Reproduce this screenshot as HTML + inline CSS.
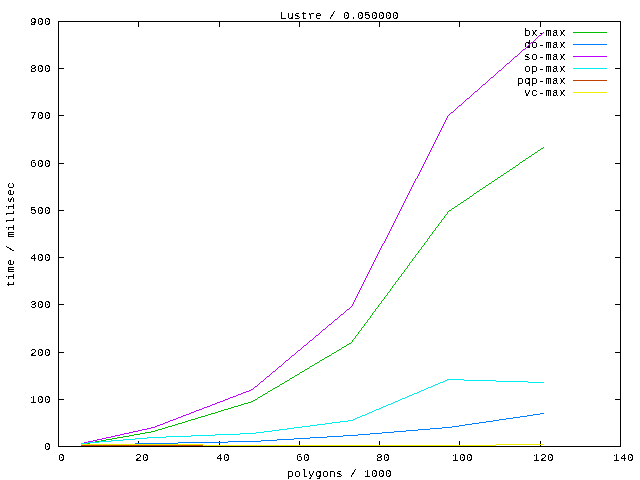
<!DOCTYPE html>
<html lang="en"><head><meta charset="utf-8"><title>Lustre / 0.050000</title>
<style>
html,body{margin:0;padding:0;background:#fff;}
body{width:640px;height:480px;overflow:hidden;}
svg{display:block;}
text{font-family:"Liberation Mono", "DejaVu Sans Mono", monospace;font-size:11.00px;letter-spacing:0.3989px;fill:#000;filter:url(#crisp);}
path,rect{shape-rendering:crispEdges;}
</style></head><body>
<svg width="640" height="480" viewBox="0 0 640 480">
<defs><filter id="crisp" x="-10%" y="-50%" width="120%" height="200%" color-interpolation-filters="sRGB"><feComponentTransfer><feFuncA type="discrete" tableValues="0 0 0 0 0 0 0 0 0 1 1 1 1 1 1 1 1 1 1 1"/></feComponentTransfer></filter></defs>
<rect x="0" y="0" width="640" height="480" fill="#ffffff"/>
<path fill="#000" d="M138 441h1v5h-1zM138 22h1v5h-1zM219 441h1v5h-1zM219 22h1v5h-1zM299 441h1v5h-1zM299 22h1v5h-1zM379 441h1v5h-1zM379 22h1v5h-1zM459 441h1v5h-1zM459 22h1v5h-1zM540 441h1v5h-1zM540 22h1v5h-1zM59 399h5v1h-5zM615 399h5v1h-5zM59 352h5v1h-5zM615 352h5v1h-5zM59 304h5v1h-5zM615 304h5v1h-5zM59 257h5v1h-5zM615 257h5v1h-5zM59 210h5v1h-5zM615 210h5v1h-5zM59 163h5v1h-5zM615 163h5v1h-5zM59 115h5v1h-5zM615 115h5v1h-5zM59 68h5v1h-5zM615 68h5v1h-5z"/>
<text x="44" y="450">0</text>
<text x="30" y="403">100</text>
<text x="30" y="356">200</text>
<text x="30" y="308">300</text>
<text x="30" y="261">400</text>
<text x="30" y="214">500</text>
<text x="30" y="167">600</text>
<text x="30" y="119">700</text>
<text x="30" y="72">800</text>
<text x="30" y="25">900</text>
<text x="58" y="461">0</text>
<text x="135" y="461">20</text>
<text x="216" y="461">40</text>
<text x="296" y="461">60</text>
<text x="376" y="461">80</text>
<text x="452" y="461">100</text>
<text x="533" y="461">120</text>
<text x="613" y="461">140</text>
<text x="280" y="19">Lustre / 0.050000</text>
<text x="287" y="477">polygons / 1000</text>
<text transform="translate(14 287) rotate(-90)" x="0" y="0">time / millisec</text>
<text x="524" y="36">bx-max</text>
<path fill="#00c000" d="M573 32h34v1h-34zM543 147h1v1h-1zM541 148h2v1h-2zM540 149h1v1h-1zM538 150h2v1h-2zM537 151h1v1h-1zM535 152h2v1h-2zM534 153h1v1h-1zM532 154h2v1h-2zM531 155h1v1h-1zM529 156h2v1h-2zM528 157h1v1h-1zM526 158h2v1h-2zM525 159h1v1h-1zM523 160h2v1h-2zM522 161h1v1h-1zM520 162h2v1h-2zM519 163h1v1h-1zM518 164h1v1h-1zM516 165h2v1h-2zM515 166h1v1h-1zM513 167h2v1h-2zM512 168h1v1h-1zM510 169h2v1h-2zM509 170h1v1h-1zM507 171h2v1h-2zM506 172h1v1h-1zM504 173h2v1h-2zM503 174h1v1h-1zM501 175h2v1h-2zM500 176h1v1h-1zM498 177h2v1h-2zM497 178h1v1h-1zM495 179h2v1h-2zM494 180h1v1h-1zM492 181h2v1h-2zM491 182h1v1h-1zM489 183h2v1h-2zM488 184h1v1h-1zM486 185h2v1h-2zM485 186h1v1h-1zM483 187h2v1h-2zM482 188h1v1h-1zM480 189h2v1h-2zM479 190h1v1h-1zM477 191h2v1h-2zM476 192h1v1h-1zM474 193h2v1h-2zM473 194h1v1h-1zM472 195h1v1h-1zM470 196h2v1h-2zM469 197h1v1h-1zM467 198h2v1h-2zM466 199h1v1h-1zM464 200h2v1h-2zM463 201h1v1h-1zM461 202h2v1h-2zM460 203h1v1h-1zM458 204h2v1h-2zM457 205h1v1h-1zM455 206h2v1h-2zM454 207h1v1h-1zM452 208h2v1h-2zM451 209h1v1h-1zM449 210h2v1h-2zM448 211h1v1h-1zM447 212h1v1h-1zM447 213h1v1h-1zM446 214h1v1h-1zM445 215h1v1h-1zM444 216h1v1h-1zM444 217h1v1h-1zM443 218h1v1h-1zM442 219h1v1h-1zM441 220h1v1h-1zM441 221h1v1h-1zM440 222h1v1h-1zM439 223h1v1h-1zM438 224h1v1h-1zM438 225h1v1h-1zM437 226h1v1h-1zM436 227h1v1h-1zM435 228h1v1h-1zM435 229h1v1h-1zM434 230h1v1h-1zM433 231h1v1h-1zM432 232h1v1h-1zM432 233h1v1h-1zM431 234h1v1h-1zM430 235h1v1h-1zM429 236h1v1h-1zM429 237h1v1h-1zM428 238h1v1h-1zM427 239h1v1h-1zM427 240h1v1h-1zM426 241h1v1h-1zM425 242h1v1h-1zM424 243h1v1h-1zM424 244h1v1h-1zM423 245h1v1h-1zM422 246h1v1h-1zM421 247h1v1h-1zM421 248h1v1h-1zM420 249h1v1h-1zM419 250h1v1h-1zM418 251h1v1h-1zM418 252h1v1h-1zM417 253h1v1h-1zM416 254h1v1h-1zM415 255h1v1h-1zM415 256h1v1h-1zM414 257h1v1h-1zM413 258h1v1h-1zM412 259h1v1h-1zM412 260h1v1h-1zM411 261h1v1h-1zM410 262h1v1h-1zM409 263h1v1h-1zM409 264h1v1h-1zM408 265h1v1h-1zM407 266h1v1h-1zM407 267h1v1h-1zM406 268h1v1h-1zM405 269h1v1h-1zM404 270h1v1h-1zM404 271h1v1h-1zM403 272h1v1h-1zM402 273h1v1h-1zM401 274h1v1h-1zM401 275h1v1h-1zM400 276h1v1h-1zM399 277h1v1h-1zM398 278h1v1h-1zM398 279h1v1h-1zM397 280h1v1h-1zM396 281h1v1h-1zM395 282h1v1h-1zM395 283h1v1h-1zM394 284h1v1h-1zM393 285h1v1h-1zM392 286h1v1h-1zM392 287h1v1h-1zM391 288h1v1h-1zM390 289h1v1h-1zM390 290h1v1h-1zM389 291h1v1h-1zM388 292h1v1h-1zM387 293h1v1h-1zM387 294h1v1h-1zM386 295h1v1h-1zM385 296h1v1h-1zM384 297h1v1h-1zM384 298h1v1h-1zM383 299h1v1h-1zM382 300h1v1h-1zM381 301h1v1h-1zM381 302h1v1h-1zM380 303h1v1h-1zM379 304h1v1h-1zM378 305h1v1h-1zM378 306h1v1h-1zM377 307h1v1h-1zM376 308h1v1h-1zM375 309h1v1h-1zM375 310h1v1h-1zM374 311h1v1h-1zM373 312h1v1h-1zM372 313h1v1h-1zM372 314h1v1h-1zM371 315h1v1h-1zM370 316h1v1h-1zM370 317h1v1h-1zM369 318h1v1h-1zM368 319h1v1h-1zM367 320h1v1h-1zM367 321h1v1h-1zM366 322h1v1h-1zM365 323h1v1h-1zM364 324h1v1h-1zM364 325h1v1h-1zM363 326h1v1h-1zM362 327h1v1h-1zM361 328h1v1h-1zM361 329h1v1h-1zM360 330h1v1h-1zM359 331h1v1h-1zM358 332h1v1h-1zM358 333h1v1h-1zM357 334h1v1h-1zM356 335h1v1h-1zM355 336h1v1h-1zM355 337h1v1h-1zM354 338h1v1h-1zM353 339h1v1h-1zM352 340h1v1h-1zM352 341h1v1h-1zM351 342h1v1h-1zM349 343h2v1h-2zM347 344h2v1h-2zM346 345h1v1h-1zM344 346h2v1h-2zM342 347h2v1h-2zM341 348h1v1h-1zM339 349h2v1h-2zM337 350h2v1h-2zM336 351h1v1h-1zM334 352h2v1h-2zM332 353h2v1h-2zM331 354h1v1h-1zM329 355h2v1h-2zM327 356h2v1h-2zM325 357h2v1h-2zM324 358h1v1h-1zM322 359h2v1h-2zM320 360h2v1h-2zM319 361h1v1h-1zM317 362h2v1h-2zM315 363h2v1h-2zM314 364h1v1h-1zM312 365h2v1h-2zM310 366h2v1h-2zM309 367h1v1h-1zM307 368h2v1h-2zM305 369h2v1h-2zM304 370h1v1h-1zM302 371h2v1h-2zM300 372h2v1h-2zM299 373h1v1h-1zM297 374h2v1h-2zM295 375h2v1h-2zM294 376h1v1h-1zM292 377h2v1h-2zM290 378h2v1h-2zM289 379h1v1h-1zM287 380h2v1h-2zM285 381h2v1h-2zM284 382h1v1h-1zM282 383h2v1h-2zM280 384h2v1h-2zM279 385h1v1h-1zM277 386h2v1h-2zM275 387h2v1h-2zM273 388h2v1h-2zM272 389h1v1h-1zM270 390h2v1h-2zM268 391h2v1h-2zM267 392h1v1h-1zM265 393h2v1h-2zM263 394h2v1h-2zM262 395h1v1h-1zM260 396h2v1h-2zM258 397h2v1h-2zM257 398h1v1h-1zM255 399h2v1h-2zM253 400h2v1h-2zM251 401h2v1h-2zM248 402h3v1h-3zM244 403h4v1h-4zM241 404h3v1h-3zM238 405h3v1h-3zM234 406h4v1h-4zM231 407h3v1h-3zM228 408h3v1h-3zM224 409h4v1h-4zM221 410h3v1h-3zM218 411h3v1h-3zM215 412h3v1h-3zM211 413h4v1h-4zM208 414h3v1h-3zM205 415h3v1h-3zM201 416h4v1h-4zM198 417h3v1h-3zM195 418h3v1h-3zM191 419h4v1h-4zM188 420h3v1h-3zM185 421h3v1h-3zM182 422h3v1h-3zM178 423h4v1h-4zM175 424h3v1h-3zM172 425h3v1h-3zM168 426h4v1h-4zM165 427h3v1h-3zM162 428h3v1h-3zM158 429h4v1h-4zM155 430h3v1h-3zM151 431h4v1h-4zM145 432h6v1h-6zM140 433h5v1h-5zM134 434h6v1h-6zM129 435h5v1h-5zM123 436h6v1h-6zM117 437h6v1h-6zM112 438h5v1h-5zM106 439h6v1h-6zM101 440h5v1h-5zM95 441h6v1h-6zM90 442h5v1h-5zM84 443h6v1h-6zM81 444h3v1h-3z"/>
<text x="524" y="48">do-max</text>
<path fill="#0080ff" d="M573 44h34v1h-34zM540 413h4v1h-4zM533 414h7v1h-7zM527 415h6v1h-6zM520 416h7v1h-7zM513 417h7v1h-7zM506 418h7v1h-7zM499 419h7v1h-7zM493 420h6v1h-6zM486 421h7v1h-7zM479 422h7v1h-7zM472 423h7v1h-7zM465 424h7v1h-7zM459 425h6v1h-6zM452 426h7v1h-7zM442 427h10v1h-10zM430 428h12v1h-12zM418 429h12v1h-12zM406 430h12v1h-12zM394 431h12v1h-12zM382 432h12v1h-12zM370 433h12v1h-12zM358 434h12v1h-12zM343 435h15v1h-15zM327 436h16v1h-16zM310 437h17v1h-17zM294 438h16v1h-16zM277 439h17v1h-17zM261 440h16v1h-16zM228 441h33v1h-33zM178 442h50v1h-50zM135 443h43v1h-43zM99 444h36v1h-36zM81 445h18v1h-18z"/>
<text x="524" y="60">so-max</text>
<path fill="#c000ff" d="M573 56h34v1h-34zM543 32h1v1h-1zM542 33h1v1h-1zM541 34h1v1h-1zM539 35h2v1h-2zM538 36h1v1h-1zM537 37h1v1h-1zM536 38h1v1h-1zM535 39h1v1h-1zM534 40h1v1h-1zM533 41h1v1h-1zM531 42h2v1h-2zM530 43h1v1h-1zM529 44h1v1h-1zM528 45h1v1h-1zM527 46h1v1h-1zM526 47h1v1h-1zM525 48h1v1h-1zM523 49h2v1h-2zM522 50h1v1h-1zM521 51h1v1h-1zM520 52h1v1h-1zM519 53h1v1h-1zM518 54h1v1h-1zM517 55h1v1h-1zM515 56h2v1h-2zM514 57h1v1h-1zM513 58h1v1h-1zM512 59h1v1h-1zM511 60h1v1h-1zM510 61h1v1h-1zM509 62h1v1h-1zM507 63h2v1h-2zM506 64h1v1h-1zM505 65h1v1h-1zM504 66h1v1h-1zM503 67h1v1h-1zM502 68h1v1h-1zM501 69h1v1h-1zM499 70h2v1h-2zM498 71h1v1h-1zM497 72h1v1h-1zM496 73h1v1h-1zM495 74h1v1h-1zM494 75h1v1h-1zM493 76h1v1h-1zM491 77h2v1h-2zM490 78h1v1h-1zM489 79h1v1h-1zM488 80h1v1h-1zM487 81h1v1h-1zM486 82h1v1h-1zM485 83h1v1h-1zM483 84h2v1h-2zM482 85h1v1h-1zM481 86h1v1h-1zM480 87h1v1h-1zM479 88h1v1h-1zM478 89h1v1h-1zM477 90h1v1h-1zM475 91h2v1h-2zM474 92h1v1h-1zM473 93h1v1h-1zM472 94h1v1h-1zM471 95h1v1h-1zM470 96h1v1h-1zM469 97h1v1h-1zM467 98h2v1h-2zM466 99h1v1h-1zM465 100h1v1h-1zM464 101h1v1h-1zM463 102h1v1h-1zM462 103h1v1h-1zM461 104h1v1h-1zM459 105h2v1h-2zM458 106h1v1h-1zM457 107h1v1h-1zM456 108h1v1h-1zM455 109h1v1h-1zM454 110h1v1h-1zM453 111h1v1h-1zM451 112h2v1h-2zM450 113h1v1h-1zM449 114h1v1h-1zM448 115h1v1h-1zM447 116h1v1h-1zM447 117h1v1h-1zM446 118h1v1h-1zM446 119h1v1h-1zM445 120h1v1h-1zM445 121h1v1h-1zM444 122h1v1h-1zM444 123h1v1h-1zM443 124h1v1h-1zM443 125h1v1h-1zM442 126h1v1h-1zM442 127h1v1h-1zM441 128h1v1h-1zM441 129h1v1h-1zM440 130h1v1h-1zM440 131h1v1h-1zM439 132h1v1h-1zM439 133h1v1h-1zM438 134h1v1h-1zM438 135h1v1h-1zM437 136h1v1h-1zM437 137h1v1h-1zM436 138h1v1h-1zM436 139h1v1h-1zM435 140h1v1h-1zM435 141h1v1h-1zM434 142h1v1h-1zM434 143h1v1h-1zM433 144h1v1h-1zM433 145h1v1h-1zM432 146h1v1h-1zM432 147h1v1h-1zM431 148h1v1h-1zM431 149h1v1h-1zM430 150h1v1h-1zM430 151h1v1h-1zM429 152h1v1h-1zM429 153h1v1h-1zM428 154h1v1h-1zM428 155h1v1h-1zM427 156h1v1h-1zM427 157h1v1h-1zM426 158h1v1h-1zM426 159h1v1h-1zM425 160h1v1h-1zM425 161h1v1h-1zM424 162h1v1h-1zM424 163h1v1h-1zM423 164h1v1h-1zM423 165h1v1h-1zM422 166h1v1h-1zM422 167h1v1h-1zM421 168h1v1h-1zM421 169h1v1h-1zM420 170h1v1h-1zM420 171h1v1h-1zM419 172h1v1h-1zM419 173h1v1h-1zM418 174h1v1h-1zM418 175h1v1h-1zM417 176h1v1h-1zM417 177h1v1h-1zM416 178h1v1h-1zM415 179h1v1h-1zM415 180h1v1h-1zM414 181h1v1h-1zM414 182h1v1h-1zM413 183h1v1h-1zM413 184h1v1h-1zM412 185h1v1h-1zM412 186h1v1h-1zM411 187h1v1h-1zM411 188h1v1h-1zM410 189h1v1h-1zM410 190h1v1h-1zM409 191h1v1h-1zM409 192h1v1h-1zM408 193h1v1h-1zM408 194h1v1h-1zM407 195h1v1h-1zM407 196h1v1h-1zM406 197h1v1h-1zM406 198h1v1h-1zM405 199h1v1h-1zM405 200h1v1h-1zM404 201h1v1h-1zM404 202h1v1h-1zM403 203h1v1h-1zM403 204h1v1h-1zM402 205h1v1h-1zM402 206h1v1h-1zM401 207h1v1h-1zM401 208h1v1h-1zM400 209h1v1h-1zM400 210h1v1h-1zM399 211h1v1h-1zM399 212h1v1h-1zM398 213h1v1h-1zM398 214h1v1h-1zM397 215h1v1h-1zM397 216h1v1h-1zM396 217h1v1h-1zM396 218h1v1h-1zM395 219h1v1h-1zM395 220h1v1h-1zM394 221h1v1h-1zM394 222h1v1h-1zM393 223h1v1h-1zM393 224h1v1h-1zM392 225h1v1h-1zM392 226h1v1h-1zM391 227h1v1h-1zM391 228h1v1h-1zM390 229h1v1h-1zM390 230h1v1h-1zM389 231h1v1h-1zM389 232h1v1h-1zM388 233h1v1h-1zM388 234h1v1h-1zM387 235h1v1h-1zM387 236h1v1h-1zM386 237h1v1h-1zM386 238h1v1h-1zM385 239h1v1h-1zM385 240h1v1h-1zM384 241h1v1h-1zM384 242h1v1h-1zM383 243h1v1h-1zM382 244h1v1h-1zM382 245h1v1h-1zM381 246h1v1h-1zM381 247h1v1h-1zM380 248h1v1h-1zM380 249h1v1h-1zM379 250h1v1h-1zM379 251h1v1h-1zM378 252h1v1h-1zM378 253h1v1h-1zM377 254h1v1h-1zM377 255h1v1h-1zM376 256h1v1h-1zM376 257h1v1h-1zM375 258h1v1h-1zM375 259h1v1h-1zM374 260h1v1h-1zM374 261h1v1h-1zM373 262h1v1h-1zM373 263h1v1h-1zM372 264h1v1h-1zM372 265h1v1h-1zM371 266h1v1h-1zM371 267h1v1h-1zM370 268h1v1h-1zM370 269h1v1h-1zM369 270h1v1h-1zM369 271h1v1h-1zM368 272h1v1h-1zM368 273h1v1h-1zM367 274h1v1h-1zM367 275h1v1h-1zM366 276h1v1h-1zM366 277h1v1h-1zM365 278h1v1h-1zM365 279h1v1h-1zM364 280h1v1h-1zM364 281h1v1h-1zM363 282h1v1h-1zM363 283h1v1h-1zM362 284h1v1h-1zM362 285h1v1h-1zM361 286h1v1h-1zM361 287h1v1h-1zM360 288h1v1h-1zM360 289h1v1h-1zM359 290h1v1h-1zM359 291h1v1h-1zM358 292h1v1h-1zM358 293h1v1h-1zM357 294h1v1h-1zM357 295h1v1h-1zM356 296h1v1h-1zM356 297h1v1h-1zM355 298h1v1h-1zM355 299h1v1h-1zM354 300h1v1h-1zM354 301h1v1h-1zM353 302h1v1h-1zM353 303h1v1h-1zM352 304h1v1h-1zM352 305h1v1h-1zM351 306h1v1h-1zM350 307h1v1h-1zM349 308h1v1h-1zM347 309h2v1h-2zM346 310h1v1h-1zM345 311h1v1h-1zM344 312h1v1h-1zM343 313h1v1h-1zM341 314h2v1h-2zM340 315h1v1h-1zM339 316h1v1h-1zM338 317h1v1h-1zM337 318h1v1h-1zM335 319h2v1h-2zM334 320h1v1h-1zM333 321h1v1h-1zM332 322h1v1h-1zM331 323h1v1h-1zM329 324h2v1h-2zM328 325h1v1h-1zM327 326h1v1h-1zM326 327h1v1h-1zM325 328h1v1h-1zM323 329h2v1h-2zM322 330h1v1h-1zM321 331h1v1h-1zM320 332h1v1h-1zM319 333h1v1h-1zM318 334h1v1h-1zM316 335h2v1h-2zM315 336h1v1h-1zM314 337h1v1h-1zM313 338h1v1h-1zM312 339h1v1h-1zM310 340h2v1h-2zM309 341h1v1h-1zM308 342h1v1h-1zM307 343h1v1h-1zM306 344h1v1h-1zM304 345h2v1h-2zM303 346h1v1h-1zM302 347h1v1h-1zM301 348h1v1h-1zM300 349h1v1h-1zM298 350h2v1h-2zM297 351h1v1h-1zM296 352h1v1h-1zM295 353h1v1h-1zM294 354h1v1h-1zM292 355h2v1h-2zM291 356h1v1h-1zM290 357h1v1h-1zM289 358h1v1h-1zM288 359h1v1h-1zM286 360h2v1h-2zM285 361h1v1h-1zM284 362h1v1h-1zM283 363h1v1h-1zM282 364h1v1h-1zM281 365h1v1h-1zM279 366h2v1h-2zM278 367h1v1h-1zM277 368h1v1h-1zM276 369h1v1h-1zM275 370h1v1h-1zM273 371h2v1h-2zM272 372h1v1h-1zM271 373h1v1h-1zM270 374h1v1h-1zM269 375h1v1h-1zM267 376h2v1h-2zM266 377h1v1h-1zM265 378h1v1h-1zM264 379h1v1h-1zM263 380h1v1h-1zM261 381h2v1h-2zM260 382h1v1h-1zM259 383h1v1h-1zM258 384h1v1h-1zM257 385h1v1h-1zM255 386h2v1h-2zM254 387h1v1h-1zM253 388h1v1h-1zM251 389h2v1h-2zM249 390h2v1h-2zM246 391h3v1h-3zM243 392h3v1h-3zM241 393h2v1h-2zM238 394h3v1h-3zM236 395h2v1h-2zM233 396h3v1h-3zM230 397h3v1h-3zM228 398h2v1h-2zM225 399h3v1h-3zM223 400h2v1h-2zM220 401h3v1h-3zM217 402h3v1h-3zM215 403h2v1h-2zM212 404h3v1h-3zM210 405h2v1h-2zM207 406h3v1h-3zM204 407h3v1h-3zM202 408h2v1h-2zM199 409h3v1h-3zM196 410h3v1h-3zM194 411h2v1h-2zM191 412h3v1h-3zM189 413h2v1h-2zM186 414h3v1h-3zM183 415h3v1h-3zM181 416h2v1h-2zM178 417h3v1h-3zM176 418h2v1h-2zM173 419h3v1h-3zM170 420h3v1h-3zM168 421h2v1h-2zM165 422h3v1h-3zM163 423h2v1h-2zM160 424h3v1h-3zM157 425h3v1h-3zM155 426h2v1h-2zM151 427h4v1h-4zM147 428h4v1h-4zM142 429h5v1h-5zM138 430h4v1h-4zM133 431h5v1h-5zM129 432h4v1h-4zM124 433h5v1h-5zM120 434h4v1h-4zM115 435h5v1h-5zM111 436h4v1h-4zM106 437h5v1h-5zM102 438h4v1h-4zM97 439h5v1h-5zM93 440h4v1h-4zM88 441h5v1h-5zM84 442h4v1h-4zM81 443h3v1h-3z"/>
<text x="524" y="72">op-max</text>
<path fill="#00eeee" d="M573 68h34v1h-34zM447 379h17v1h-17zM445 380h2v1h-2zM464 380h32v1h-32zM443 381h2v1h-2zM496 381h32v1h-32zM440 382h3v1h-3zM528 382h16v1h-16zM438 383h2v1h-2zM435 384h3v1h-3zM433 385h2v1h-2zM431 386h2v1h-2zM428 387h3v1h-3zM426 388h2v1h-2zM424 389h2v1h-2zM421 390h3v1h-3zM419 391h2v1h-2zM417 392h2v1h-2zM414 393h3v1h-3zM412 394h2v1h-2zM409 395h3v1h-3zM407 396h2v1h-2zM405 397h2v1h-2zM402 398h3v1h-3zM400 399h2v1h-2zM398 400h2v1h-2zM395 401h3v1h-3zM393 402h2v1h-2zM391 403h2v1h-2zM388 404h3v1h-3zM386 405h2v1h-2zM383 406h3v1h-3zM381 407h2v1h-2zM379 408h2v1h-2zM376 409h3v1h-3zM374 410h2v1h-2zM372 411h2v1h-2zM369 412h3v1h-3zM367 413h2v1h-2zM365 414h2v1h-2zM362 415h3v1h-3zM360 416h2v1h-2zM357 417h3v1h-3zM355 418h2v1h-2zM353 419h2v1h-2zM348 420h5v1h-5zM340 421h8v1h-8zM332 422h8v1h-8zM325 423h7v1h-7zM317 424h8v1h-8zM310 425h7v1h-7zM302 426h8v1h-8zM294 427h8v1h-8zM287 428h7v1h-7zM279 429h8v1h-8zM272 430h7v1h-7zM264 431h8v1h-8zM256 432h8v1h-8zM240 433h16v1h-16zM215 434h25v1h-25zM191 435h24v1h-24zM166 436h25v1h-25zM147 437h19v1h-19zM135 438h12v1h-12zM123 439h12v1h-12zM111 440h12v1h-12zM99 441h12v1h-12zM87 442h12v1h-12zM81 443h6v1h-6z"/>
<text x="517" y="84">pqp-max</text>
<path fill="#c04000" d="M573 80h34v1h-34zM81 445h122v1h-122zM203 446h341v1h-341z"/>
<text x="524" y="96">vc-max</text>
<path fill="#eeee00" d="M573 92h34v1h-34zM81 444h122v1h-122zM496 444h48v1h-48zM203 445h293v1h-293z"/>
<path fill="#000" fill-rule="evenodd" d="M58 21h563v426h-563zM59 22h561v424h-561z"/>
</svg>
</body></html>
